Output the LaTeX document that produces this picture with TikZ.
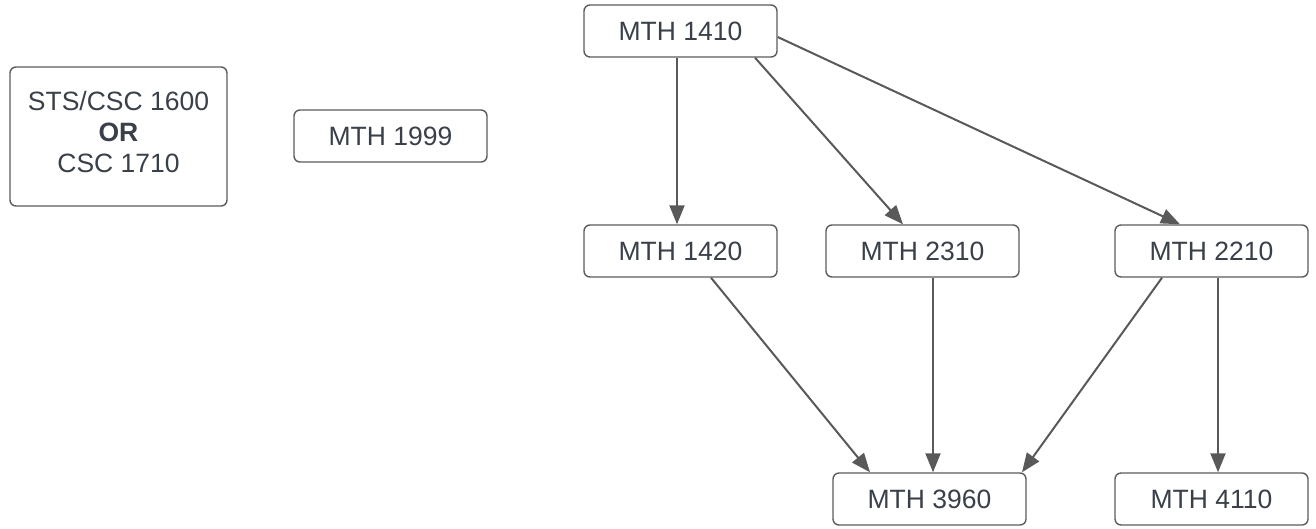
\documentclass[tikz,border=0pt]{standalone}
\usepackage{fontspec}
\setmainfont{Liberation Sans}
\usetikzlibrary{arrows.meta}
\definecolor{txt}{HTML}{3A4049}
\definecolor{bord}{HTML}{5C5C5C}
\definecolor{edge}{HTML}{595959}
\tikzset{
  course/.style={draw=bord, line width=1.4pt, rounded corners=6pt, fill=white,
    minimum width=193pt, minimum height=52pt, inner sep=0pt, text=txt,
    font=\fontsize{26.5}{30}\selectfont},
  bigcourse/.style={course, minimum width=217pt, minimum height=139pt},
  bigtext/.style={text=txt, align=center, yshift=4pt,
    font=\fontsize{26.5}{31}\selectfont},
  link/.style={draw=edge, line width=2pt, -{Triangle[length=19pt,width=15pt]}}
}
\begin{document}
\begin{tikzpicture}[x=1pt,y=-1pt]
\useasboundingbox (0,0) rectangle (1316,528);
\node[bigcourse, label={[bigtext]center:STS/CSC 1600\\\textbf{OR}\\CSC 1710}] (alt) at (118.5,136.5) {};
\node[course] (m1999) at (390.5,136) {MTH 1999};
\node[course] (m1410) at (680.5,31) {MTH 1410};
\node[course] (m1420) at (680.5,251) {MTH 1420};
\node[course] (m2310) at (922.5,251) {MTH 2310};
\node[course] (m2210) at (1211.5,251) {MTH 2210};
\node[course] (m3960) at (929.5,499) {MTH 3960};
\node[course] (m4110) at (1211.5,499) {MTH 4110};
\draw[link] ([xshift=-3.5pt]m1410.south) -- ([xshift=-3.5pt]m1420.north);
\draw[link] ([xshift=74.5pt]m1410.south) -- ([xshift=-19.5pt]m2310.north);
\draw[link] ([yshift=-6pt]m1410.east) -- ([xshift=-31.5pt]m2210.north);
\draw[link] ([xshift=30.5pt]m1420.south) -- ([xshift=-59.5pt]m3960.north);
\draw[link] ([xshift=10.5pt]m2310.south) -- ([xshift=3.5pt]m3960.north);
\draw[link] ([xshift=-49.5pt]m2210.south) -- ([xshift=92.5pt]m3960.north);
\draw[link] ([xshift=6.5pt]m2210.south) -- ([xshift=6.5pt]m4110.north);
\end{tikzpicture}
\end{document}
